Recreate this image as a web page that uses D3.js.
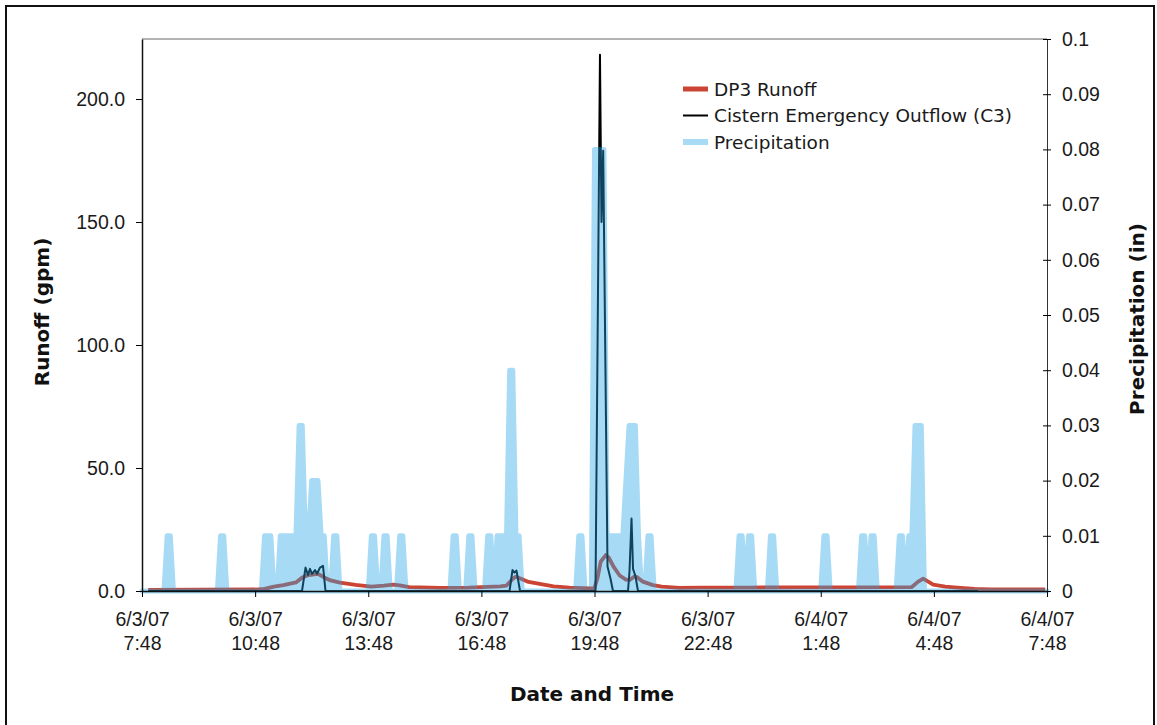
<!DOCTYPE html>
<html>
<head>
<meta charset="utf-8">
<script src="https://d3js.org/d3.v7.min.js"></script>
<style>
  body { margin: 0; background: #fff; }
  svg { display: block; font-family: "DejaVu Sans", Verdana, sans-serif; }
  .tick text { font-size: 19.5px; fill: #1a1a1a; }
  .title { font-size: 20px; font-weight: bold; fill: #111; }
  .legend text { font-size: 18.5px; fill: #1a1a1a; }
</style>
</head>
<body>
<svg width="1157" height="725"></svg>
<script>
// record runs from 6/3/07 7:48 to 6/4/07 7:48
const startTime = new Date(2007, 5, 3, 7, 48);
const endTime = new Date(2007, 5, 4, 7, 48);

// precipitation (in), one reading every 5 minutes from startTime, one row per hour
const precipStepMin = 5;
const precipIn = [
  0, 0, 0, 0, 0, 0, 0, 0, .01, .01, 0, 0,
  0, 0, 0, 0, 0, 0, 0, 0, 0, 0, 0, 0,
  0, .01, .01, 0, 0, 0, 0, 0, 0, 0, 0, 0,
  0, 0, 0, .01, .01, .01, 0, 0, .01, .01, .01, .01,
  .01, .01, .03, .03, .01, .01, .02, .02, .02, .01, .01, 0,
  0, .01, .01, 0, 0, 0, 0, 0, 0, 0, 0, 0,
  0, .01, .01, 0, 0, .01, .01, 0, 0, 0, .01, .01,
  0, 0, 0, 0, 0, 0, 0, 0, 0, 0, 0, 0,
  0, 0, 0, .01, .01, 0, 0, 0, .01, .01, 0, 0,
  0, 0, .01, .01, 0, .01, .01, .01, .01, .04, .04, .01,
  .01, 0, 0, 0, 0, 0, 0, 0, 0, 0, 0, 0,
  0, 0, 0, 0, 0, 0, 0, .01, .01, 0, 0, 0,
  .08, .08, .08, .08, .01, .01, .01, .01, .01, .01, .02, .03,
  .03, .03, .01, 0, 0, .01, .01, 0, 0, 0, 0, 0,
  0, 0, 0, 0, 0, 0, 0, 0, 0, 0, 0, 0,
  0, 0, 0, 0, 0, 0, 0, 0, 0, 0, .01, .01,
  0, .01, .01, 0, 0, 0, 0, 0, .01, .01, 0, 0,
  0, 0, 0, 0, 0, 0, 0, 0, 0, 0, 0, 0,
  0, .01, .01, 0, 0, 0, 0, 0, 0, 0, 0, 0,
  0, .01, .01, 0, .01, .01, 0, 0, 0, 0, 0, 0,
  0, .01, .01, 0, .01, .01, .03, .03, .03, 0, 0, 0,
  0, 0, 0, 0, 0, 0, 0, 0, 0, 0, 0, 0,
  0, 0, 0, 0, 0, 0, 0, 0, 0, 0, 0, 0,
  0, 0, 0, 0, 0, 0, 0, 0, 0, 0, 0, 0,
  0
];

// DP3 runoff (gpm), minutes after startTime
const runoffMin = [10, 90, 180, 195, 210, 225, 245, 255, 265, 280, 290, 300, 315, 340, 365, 385, 400, 410, 425,
  475, 520, 570, 580, 590, 595, 605, 615, 635, 655, 680, 713, 720, 725, 730, 738, 743, 750, 760, 770, 776, 783,
  788, 797, 813, 827, 855, 888, 967, 1047, 1127, 1225, 1235, 1243, 1251, 1259, 1278, 1302, 1325, 1349, 1437];
const runoffGpm = [0.4, 0.5, 0.6, 0.9, 1.8, 2.4, 3.5, 5.5, 6.5, 7.0, 5.5, 4.3, 3.4, 2.5, 1.8, 2.2, 2.6, 2.3, 1.6,
  1.3, 1.4, 1.9, 2.2, 5.0, 5.8, 4.8, 3.7, 2.8, 1.9, 1.4, 1.1, 1.2, 5.5, 12, 14.6, 13.5, 10, 6.3, 4.6, 4.5, 5.8,
  5.6, 3.8, 2.4, 1.8, 1.3, 1.4, 1.4, 1.5, 1.5, 1.6, 3.8, 5.0, 3.8, 2.6, 1.8, 1.3, 0.9, 0.7, 0.6];

// cistern emergency outflow C3 (gpm), minutes after startTime
const cisternMin = [10, 254.6, 260.2, 264.1, 267.3, 270.5, 275.3, 278.5, 283.2, 288, 292,
  584.8, 589.5, 592.7, 595.9, 601.5,
  721.6, 728.7, 731.1, 733.8, 740.7, 745.5, 749.4,
  773.3, 775.7, 778.9, 781.3, 785.2, 789.2, 1330];
const cisternGpm = [0, 0, 9.5, 6.5, 9, 7, 8.5, 7, 9.5, 10.2, 0,
  0, 8.5, 7.5, 8.3, 0,
  0, 218, 150, 179, 10, 5, 0,
  0, 8, 29.5, 9, 6, 0, 0];

const xTickLabels = ["6/3/07 7:48", "6/3/07 10:48", "6/3/07 13:48", "6/3/07 16:48", "6/3/07 19:48",
  "6/3/07 22:48", "6/4/07 1:48", "6/4/07 4:48", "6/4/07 7:48"];
const runoffTicks = [0, 50, 100, 150, 200];
const precipTicks = [0, 0.01, 0.02, 0.03, 0.04, 0.05, 0.06, 0.07, 0.08, 0.09, 0.1];
const legendNames = ["DP3 Runoff", "Cistern Emergency Outflow (C3)", "Precipitation"];

const svg = d3.select('svg');
const plotLeft = 142, plotRight = 1047, plotTop = 39, plotBottom = 591;

const atMin = m => new Date(startTime.getTime() + m * 60000);
const parse = d3.timeParse('%m/%d/%y %H:%M');

const x = d3.scaleTime().domain([startTime, endTime]).range([plotLeft, plotRight]);
const yL = d3.scaleLinear().domain([0, 224.4]).range([plotBottom, plotTop]);
const yR = d3.scaleLinear().domain([0, 0.1]).range([plotBottom, plotTop]);

// outer frame
svg.append('rect')
  .attr('x', 6).attr('y', 6).attr('width', 1148).attr('height', 740)
  .attr('fill', 'none').attr('stroke', '#111').attr('stroke-width', 2);

// top border of plot area
svg.append('line')
  .attr('x1', plotLeft).attr('x2', plotRight).attr('y1', plotTop).attr('y2', plotTop)
  .attr('stroke', '#b3b3b3').attr('stroke-width', 2);

const runoff = runoffMin.map((m, i) => ({t: atMin(m), v: runoffGpm[i]}));
const cistern = cisternMin.map((m, i) => ({t: atMin(m), v: cisternGpm[i]}));
const precip = precipIn.map((v, i) => ({t: atMin(i * precipStepMin), v: v}));

svg.append('path')
  .datum(runoff)
  .attr('fill', 'none').attr('stroke', '#cc4433').attr('stroke-width', 3.8)
  .attr('stroke-linejoin', 'round')
  .attr('d', d3.line().x(d => x(d.t)).y(d => yL(d.v)));

svg.append('path')
  .datum(cistern)
  .attr('fill', 'none').attr('stroke', '#000').attr('stroke-width', 2)
  .attr('stroke-linejoin', 'round')
  .attr('d', d3.line().x(d => x(d.t)).y(d => yL(d.v)));

// precipitation sits on top, see-through
svg.append('g').attr('opacity', 0.4)
  .append('path')
  .datum(precip)
  .attr('fill', 'rgb(38,165,229)').attr('stroke', 'rgb(38,165,229)').attr('stroke-width', 5)
  .attr('stroke-linejoin', 'round')
  .attr('d', d3.area().x(d => x(d.t)).y0(yR(0)).y1(d => yR(d.v)));

// left axis
const gl = svg.append('g').attr('transform', 'translate(' + plotLeft + ',0)')
  .call(d3.axisLeft(yL).tickValues(runoffTicks).tickFormat(d3.format('.1f'))
    .tickSize(6).tickSizeOuter(0).tickPadding(11));
gl.select('.domain').attr('stroke', '#111').attr('stroke-width', 1.5);

// right axis, ticks cross the line
const gr = svg.append('g').attr('transform', 'translate(' + plotRight + ',0)')
  .call(d3.axisRight(yR).tickValues(precipTicks).tickFormat(d3.format('~g'))
    .tickSize(4).tickSizeOuter(0).tickPadding(11));
gr.selectAll('.tick line').attr('x1', -4);
gr.select('.domain').attr('stroke', '#333');

// bottom axis
const xTicks = xTickLabels.map(parse);
const gb = svg.append('g').attr('transform', 'translate(0,' + plotBottom + ')')
  .call(d3.axisBottom(x).tickValues(xTicks).tickFormat('').tickSize(6).tickSizeOuter(0));
gb.select('.domain').attr('stroke', '#111').attr('stroke-width', 1.5);
const dFmt = d3.timeFormat('%-m/%-d/%y'), hFmt = d3.timeFormat('%-H:%M');
gb.selectAll('.tick').each(function(d) {
  const t = d3.select(this).append('text').attr('fill', '#1a1a1a').attr('text-anchor', 'middle');
  t.append('tspan').attr('x', 0).attr('y', 35).text(dFmt(d));
  t.append('tspan').attr('x', 0).attr('y', 59).text(hFmt(d));
});

// axis titles
svg.append('text').attr('class', 'title')
  .attr('transform', 'translate(49,312) rotate(-90)').attr('text-anchor', 'middle')
  .text('Runoff (gpm)');
svg.append('text').attr('class', 'title')
  .attr('transform', 'translate(1144,319) rotate(-90)').attr('text-anchor', 'middle')
  .text('Precipitation (in)');
svg.append('text').attr('class', 'title')
  .attr('x', 592).attr('y', 701).attr('text-anchor', 'middle')
  .text('Date and Time');

// legend
const legendColors = ['#cc4433', '#000', 'rgb(168,219,244)'];
const legendWidths = [5, 2, 6];
const lg = svg.append('g').attr('class', 'legend');
legendNames.forEach(function(name, i) {
  const yy = 89 + i * 26.5;
  lg.append('line').attr('x1', 683).attr('x2', 708).attr('y1', yy).attr('y2', yy)
    .attr('stroke', legendColors[i]).attr('stroke-width', legendWidths[i]);
  lg.append('text').attr('x', 714).attr('y', yy).attr('dy', '0.36em').text(name);
});
</script>
</body>
</html>
